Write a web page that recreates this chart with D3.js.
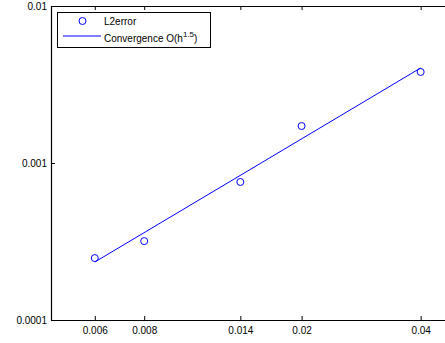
<!DOCTYPE html>
<html>
<head>
<meta charset="utf-8">
<script src="https://cdn.jsdelivr.net/npm/d3@7"></script>
<style>
  body { margin: 0; background: #fff; }
  svg { display: block; font-family: "Liberation Sans", Arial, sans-serif; }
</style>
</head>
<body>
<svg width="445" height="343"></svg>
<script>
// mesh size h and the measured L2 error
var hValues = [0.006, 0.008, 0.014, 0.02, 0.04];
var l2Error = [2.48e-4, 3.18e-4, 7.57e-4, 1.72e-3, 3.80e-3];

// reference line O(h^1.5), read at its two ends
var fitH = [0.006, 0.04];
var fitErr = [2.34e-4, 4.03e-3];

var xTicks = [0.006, 0.008, 0.014, 0.02, 0.04];
var xTickLabels = ["0.006", "0.008", "0.014", "0.02", "0.04"];
var yTicks = [0.0001, 0.001, 0.01];
var yTickLabels = ["0.0001", "0.001", "0.01"];

// note: "top" is taken by window.top, so use plot* names
var svg = d3.select("svg"),
    plotLeft = 51, plotRight = 459, plotTop = 6, plotBottom = 320;

var x = d3.scaleLog().domain([0.00465, 0.05]).range([plotLeft, plotRight]);
var y = d3.scaleLog().domain([0.0001, 0.01]).range([plotBottom, plotTop]);

// axes (ticks point inward, box style)
svg.append("g")
    .attr("transform", "translate(0," + plotBottom + ")")
    .call(d3.axisBottom(x).tickValues(xTicks)
        .tickFormat(function(d, i) { return xTickLabels[i]; })
        .tickSizeInner(-4).tickSizeOuter(0).tickPadding(7));

svg.append("g")
    .attr("transform", "translate(0," + plotTop + ")")
    .call(d3.axisTop(x).tickValues(xTicks).tickFormat("")
        .tickSizeInner(-4).tickSizeOuter(0));

svg.append("g")
    .attr("transform", "translate(" + plotLeft + ",0)")
    .call(d3.axisLeft(y).tickValues(yTicks)
        .tickFormat(function(d, i) { return yTickLabels[i]; })
        .tickSizeInner(-4).tickSizeOuter(0).tickPadding(4));

svg.append("g")
    .attr("transform", "translate(" + plotRight + ",0)")
    .call(d3.axisRight(y).tickValues(yTicks).tickFormat("")
        .tickSizeInner(-4).tickSizeOuter(0));

svg.selectAll(".domain").attr("stroke", "#000").attr("stroke-width", 1.2);
svg.selectAll(".tick line").attr("stroke", "#000");
svg.selectAll(".tick text").attr("font-size", 10).attr("fill", "#000")
    .attr("font-family", "Liberation Sans, Arial, sans-serif");

// fitted line
var line = d3.line()
    .x(function(d) { return x(d[0]); })
    .y(function(d) { return y(d[1]); });

svg.append("path")
    .datum(d3.zip(fitH, fitErr))
    .attr("d", line)
    .attr("fill", "none")
    .attr("stroke", "#0000ff")
    .attr("stroke-width", 1);

// error markers
svg.append("g")
    .selectAll("circle")
    .data(d3.zip(hValues, l2Error))
    .enter().append("circle")
      .attr("cx", function(d) { return x(d[0]); })
      .attr("cy", function(d) { return y(d[1]); })
      .attr("r", 3.5)
      .attr("fill", "none")
      .attr("stroke", "#0000ff")
      .attr("stroke-width", 1);

// legend
var legend = svg.append("g");

legend.append("rect")
    .attr("x", 57.5).attr("y", 12.5)
    .attr("width", 153).attr("height", 35)
    .attr("fill", "#fff")
    .attr("stroke", "#000")
    .attr("stroke-width", 1);

legend.append("circle")
    .attr("cx", 82.5).attr("cy", 21)
    .attr("r", 3.5)
    .attr("fill", "none")
    .attr("stroke", "#0000ff");

legend.append("line")
    .attr("x1", 63).attr("x2", 101)
    .attr("y1", 36).attr("y2", 36)
    .attr("stroke", "#0000ff");

legend.append("text")
    .attr("x", 104).attr("y", 21)
    .attr("dy", "0.35em")
    .attr("font-size", 10)
    .text("L2error");

var conv = legend.append("text")
    .attr("x", 104).attr("y", 38)
    .attr("dy", "0.35em")
    .attr("font-size", 10);
conv.append("tspan").text("Convergence O(h");
conv.append("tspan").attr("font-size", 8).attr("dy", "-0.6em").text("1.5");
conv.append("tspan").attr("dy", "0.48em").text(")");
</script>
</body>
</html>
